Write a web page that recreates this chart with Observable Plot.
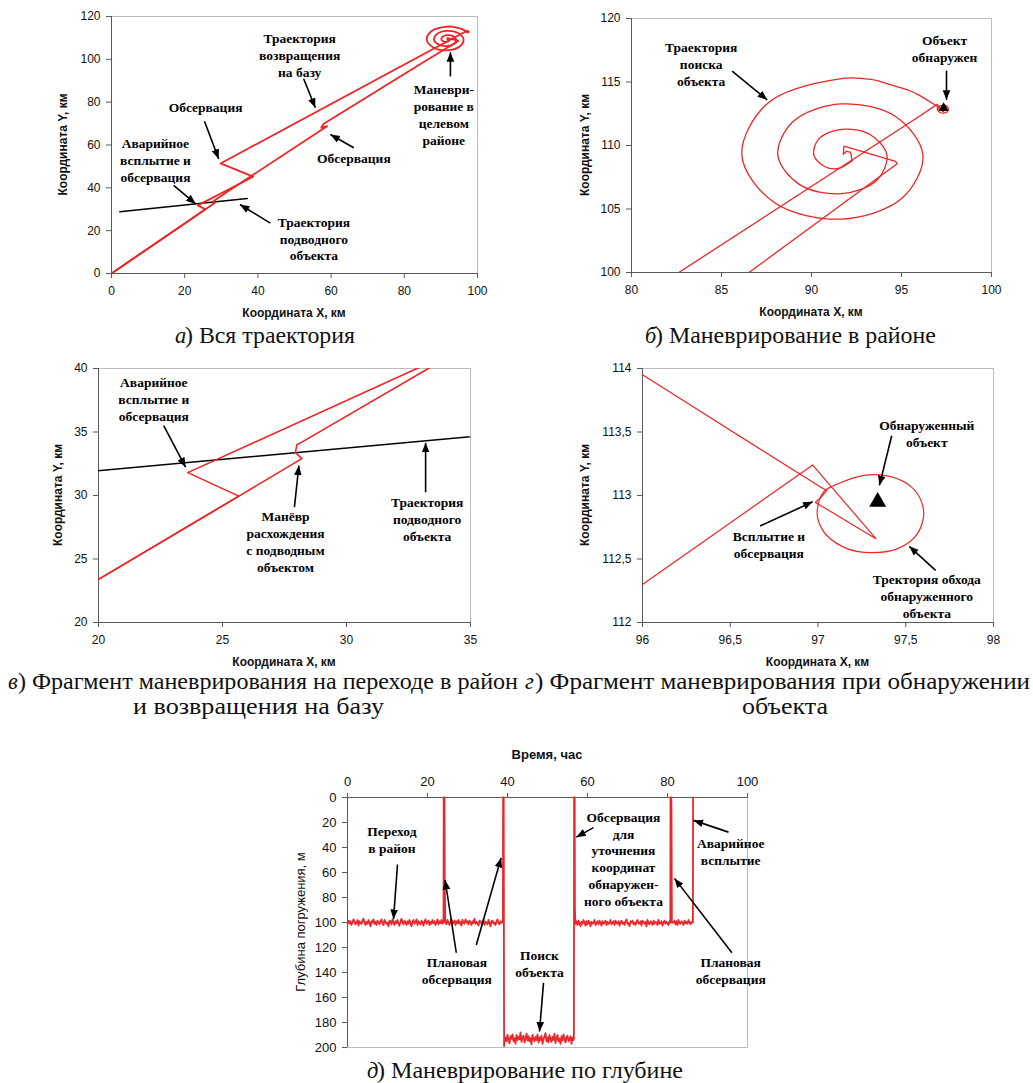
<!DOCTYPE html>
<html>
<head>
<meta charset="utf-8">
<script src="https://cdn.jsdelivr.net/npm/d3@7"></script>
<script src="https://cdn.jsdelivr.net/npm/@observablehq/plot@0.6"></script>
<style>
  body { margin: 0; background: #fff; }
  #wrap { position: relative; width: 1033px; height: 1083px; overflow: hidden; background: #fff; }
</style>
</head>
<body>
<div id="wrap"></div>
<script>
// ---------- DATA ----------
// Outbound track (km): base -> target area, ending at spiral start
const outboundX = [0, 20, 25.66, 28.2, 27.94, 28.0, 28.2, 33.3, 58.9, 57.3, 58.0, 86.43, 94.76, 94.67, 91.8, 91.77, 91.94, 92.17, 92.26];
const outboundY = [0, 23.4, 29.95, 32.9, 33.4, 34.0, 34.2, 40.0, 68.8, 68.1, 69.9, 99.9, 108.56, 108.75, 109.95, 109.3, 109.55, 109.45, 108.8];
// Search spiral
const spiralX = [92.26, 91.5, 90.75, 90.13, 90.40, 91.66, 93.27, 94.19, 93.63, 91.66, 89.34, 88.13, 88.99, 91.66, 94.69, 96.19, 95.04, 91.66, 87.93, 86.13, 87.57, 91.66, 93.3, 94.6, 95.4, 96.0];
const spiralY = [108.8, 108.2, 108.33, 109.24, 110.50, 111.27, 110.85, 109.24, 107.27, 106.21, 106.92, 109.24, 111.91, 113.27, 112.27, 109.24, 105.86, 104.21, 105.51, 109.24, 113.33, 115.27, 115.2, 114.7, 114.35, 113.95];
// Approach to object, surfacing, and return to base
const returnX = [96.0, 97.01, 97.05, 97.02, 96.985, 97.005, 97.33, 96.97, 96.0, 29.8, 38.7, 23.6, 25.66, 20, 0];
const returnY = [113.95, 113.07, 113.04, 112.99, 112.945, 112.93, 112.66, 113.24, 112.3, 51.4, 45.2, 31.8, 29.95, 23.4, 0];
// Orbit around detected object
const orbitX = [96.995, 97.033, 97.128, 97.27, 97.41, 97.53, 97.59, 97.60, 97.55, 97.45, 97.30, 97.17, 97.05, 97.005];
const orbitY = [112.87, 113.03, 113.10, 113.16, 113.15, 113.07, 112.95, 112.82, 112.67, 112.58, 112.55, 112.58, 112.685, 112.79];
// Underwater object trajectory
const subX = [2.3, 37.1];
const subY = [28.8, 35.0];
// Detected object
const targetX = [97.34];
const targetY = [112.95];

// Depth vs time (hours, metres), sampled every 0.25 h on the level legs
const depthStep = 0.25;
const leg1Start = 0;
const leg1Depth = [
  100.5, 98.5, 101, 99, 102, 100, 97.5, 99.5, 101.5, 100, 98, 102.5, 99, 100.5, 101, 98.5,
  97, 100, 102, 99.5, 101, 98, 100.5, 103, 99, 100, 97.5, 101, 99.5, 102, 98.5, 100,
  101.5, 99, 97.5, 100.5, 102, 98, 99.5, 101, 100, 103, 98.5, 99, 101.5, 97.5, 100, 102,
  99, 100.5, 98, 101, 102.5, 99.5, 97, 100, 101.5, 98.5, 100, 102, 99, 101, 98, 100.5,
  103, 99.5, 98, 101, 100, 97.5, 102, 99, 100.5, 101.5, 98.5, 100, 102.5, 99, 97.5, 101,
  100, 98.5, 102, 99.5, 101, 98, 100.5, 99, 102, 100, 97.5, 101.5, 99, 100.5, 98, 101];
const obs1Time = [24.0, 24.05, 24.25, 24.3, 24.45];
const obs1Depth = [100, 0, 0, 62, 100];
const leg2Start = 24.5;
const leg2Depth = [
  99, 101.5, 98, 100, 102, 99.5, 97.5, 101, 100, 98.5, 102, 99, 100.5, 98, 101, 99.5,
  102.5, 98, 100, 101, 97.5, 100, 99, 101.5, 98.5, 100, 102, 99, 100.5, 97, 101, 99.5,
  100.5, 102.5, 98.5, 99, 101, 100, 97.5, 102, 99.5, 100, 101.5, 98, 100.5, 103, 99, 98.5,
  101, 100, 102, 99, 97.5, 100.5, 101.5, 99, 100];
const dive1Time = [38.85, 38.9, 39.05, 39.15, 39.3];
const dive1Depth = [100, 0, 0, 199, 193];
const searchStart = 39.5;
const searchDepth = [
  192, 195, 190, 194, 196.5, 191, 193, 189.5, 195, 192.5, 197, 190, 194, 191.5, 193.5, 188,
  195.5, 192, 190.5, 196, 193, 189, 194.5, 191, 195, 192.5, 197.5, 190, 193, 195, 191.5, 194,
  189.5, 196, 192, 194, 190.5, 197, 193.5, 191, 188.5, 195, 192, 196, 190, 193, 195.5, 191.5,
  194, 189, 196.5, 192.5, 190, 195, 193, 197, 191, 194.5, 189.5, 193, 196, 192, 190.5, 195,
  193.5, 191, 197, 192, 194];
const obs2Time = [56.6, 56.65, 56.8, 56.85, 56.95];
const obs2Depth = [193, 0, 0, 89, 100];
const leg3Start = 57;
const leg3Depth = [
  101, 99, 102, 98.5, 100.5, 103, 99.5, 101, 98, 100, 102.5, 99, 101.5, 98.5, 100, 103,
  99.5, 101, 100, 98, 102, 100.5, 99, 101.5, 98.5, 100, 102.5, 99, 101, 100, 98.5, 102,
  99.5, 101, 100.5, 98, 101.5, 100, 99, 102, 98.5, 100.5, 101, 99, 102.5, 100, 98.5, 101,
  100, 102, 99, 97.5, 101, 100.5, 103, 99, 100, 98.5, 101.5, 100, 102, 99.5, 98, 101,
  100.5, 99, 102.5, 98.5, 100, 101, 99.5, 103, 98, 100.5, 101.5, 99, 100, 102, 98.5, 101,
  99.5, 100, 102, 98, 101, 100.5, 99, 102.5, 100, 98.5, 101, 99.5, 100.5, 102, 99];
const obs3Time = [80.7, 80.75, 80.95, 81.0, 81.1];
const obs3Depth = [100, 0, 0, 10, 100];
const leg4Start = 81.5;
const leg4Depth = [100, 98.5, 101.5, 99, 102, 98, 100.5, 101, 99, 100, 102, 98.5, 100.5, 99.5, 101, 98, 100, 101.5, 99.5];
const surf2Time = [86.35, 86.4];
const surf2Depth = [100, 0];

// Tick labels
const ticksA_X = [0, 20, 40, 60, 80, 100], ticksA_Y = [0, 20, 40, 60, 80, 100, 120];
const ticksB_X = [80, 85, 90, 95, 100], ticksB_Y = [100, 105, 110, 115, 120];
const ticksC_X = [20, 25, 30, 35], ticksC_Y = [20, 25, 30, 35, 40];
const ticksD_X = [96, 96.5, 97, 97.5, 98], ticksD_Y = [112, 112.5, 113, 113.5, 114];
const ticksE_X = [0, 20, 40, 60, 80, 100], ticksE_Y = [0, 20, 40, 60, 80, 100, 120, 140, 160, 180, 200];

// Annotations (data coordinates)
const notesA = [
  {x: 51.4, y: 102.2, text: "Траектория\nвозвращения\nна базу"},
  {x: 90.8, y: 74.4, text: "Маневри-\nрование в\nцелевом\nрайоне"},
  {x: 25.7, y: 78, text: "Обсервация"},
  {x: 66.2, y: 54.3, text: "Обсервация"},
  {x: 12.0, y: 53.2, text: "Аварийное\nвсплытие и\nобсервация"},
  {x: 55.3, y: 16.5, text: "Траектория\nподводного\nобъекта"}
];
const arrowsA = [
  {x1: 52.5, y1: 90.9, x2: 55.7, y2: 77.4},
  {x1: 92.6, y1: 92, x2: 92.6, y2: 103.3},
  {x1: 25.4, y1: 71.1, x2: 29.3, y2: 53.5},
  {x1: 66.2, y1: 58.7, x2: 59.8, y2: 64.9},
  {x1: 17.0, y1: 41.1, x2: 23.0, y2: 32.5},
  {x1: 43.4, y1: 23.5, x2: 35.1, y2: 32.2}
];
const notesB = [
  {x: 83.87, y: 116.43, text: "Траектория\nпоиска\nобъекта"},
  {x: 97.39, y: 117.66, text: "Объект\nобнаружен"}
];
const arrowsB = [
  {x1: 85.59, y1: 115.85, x2: 87.54, y2: 113.6},
  {x1: 97.5, y1: 115.9, x2: 97.5, y2: 113.6}
];
const notesC = [
  {x: 22.23, y: 37.61, text: "Аварийное\nвсплытие и\nобсервация"},
  {x: 27.54, y: 26.43, text: "Манёвр\nрасхождения\nс подводным\nобъектом"},
  {x: 33.25, y: 28.19, text: "Траектория\nподводного\nобъекта"}
];
const arrowsC = [
  {x1: 22.63, y1: 35.5, x2: 23.51, y2: 32.23},
  {x1: 27.9, y1: 29.08, x2: 28.08, y2: 32.36},
  {x1: 33.19, y1: 30.26, x2: 33.19, y2: 34.15}
];
const notesD = [
  {x: 97.62, y: 113.49, text: "Обнаруженный\nобъект"},
  {x: 96.72, y: 112.62, text: "Всплытие и\nобсервация"},
  {x: 97.62, y: 112.21, text: "Тректория обхода\nобнаруженного\nобъекта"}
];
const arrowsD = [
  {x1: 97.42, y1: 113.47, x2: 97.35, y2: 113.08},
  {x1: 96.67, y1: 112.76, x2: 96.97, y2: 112.95},
  {x1: 97.67, y1: 112.41, x2: 97.52, y2: 112.6}
];
const notesE = [
  {x: 11.1, y: 33.3, text: "Переход\nв район"},
  {x: 27.35, y: 138.3, text: "Плановая\nобсервация"},
  {x: 48, y: 132.2, text: "Поиск\nобъекта"},
  {x: 69, y: 48.8, text: "Обсервация\nдля\nуточнения\nкоординат\nобнаружен-\nного объекта"},
  {x: 95.8, y: 42.6, text: "Аварийное\nвсплытие"},
  {x: 95.8, y: 138.3, text: "Плановая\nобсервация"}
];
const arrowsE = [
  {x1: 12.5, y1: 53.6, x2: 11.5, y2: 97.3},
  {x1: 27.2, y1: 124.2, x2: 24.4, y2: 66},
  {x1: 32.2, y1: 118, x2: 38.4, y2: 48.3},
  {x1: 49, y1: 148.3, x2: 48, y2: 187.2},
  {x1: 61.5, y1: 24.1, x2: 57.2, y2: 31.7},
  {x1: 95.25, y1: 27.7, x2: 86.5, y2: 18.3},
  {x1: 96.1, y1: 124.2, x2: 81.75, y2: 64.7}
];

// ---------- BUILD ----------
const zipXY = (xs, ys) => xs.map((x, i) => ({x, y: ys[i]}));
const outbound = zipXY(outboundX, outboundY);
const spiral = zipXY(spiralX, spiralY);
const ret = zipXY(returnX, returnY);
const orbit = zipXY(orbitX, orbitY);
const sub = zipXY(subX, subY);
const target = zipXY(targetX, targetY);

const depth = [];
const addLeg = (start, vals) => vals.forEach((d, i) => depth.push({t: start + i * depthStep, d}));
const addPts = (ts, ds) => ts.forEach((t, i) => depth.push({t, d: ds[i]}));
addLeg(leg1Start, leg1Depth); addPts(obs1Time, obs1Depth);
addLeg(leg2Start, leg2Depth); addPts(dive1Time, dive1Depth);
addLeg(searchStart, searchDepth); addPts(obs2Time, obs2Depth);
addLeg(leg3Start, leg3Depth); addPts(obs3Time, obs3Depth);
addLeg(leg4Start, leg4Depth); addPts(surf2Time, surf2Depth);

const RED = "#f02424";
const commaFmt = d => String(d).replace(".", ",");
const NOTE_FS = 13.5;

function fillMarkers(svg) {
  svg.querySelectorAll("marker").forEach(m => {
    m.setAttribute("viewBox", "-10 -5 10 10");
    m.setAttribute("markerWidth", "6");
    m.setAttribute("markerHeight", "6");
    m.setAttribute("fill", "#000");
    m.setAttribute("stroke", "none");
    const p = m.querySelector("path");
    if (p) p.setAttribute("d", "M-10,-4L0,0L-10,4Z");
  });
}

function noteMarks(notes, arrows, fs) {
  return [
    Plot.text(notes, {x: "x", y: "y", text: "text", fontFamily: "'Liberation Serif', 'Times New Roman', serif",
      fontWeight: "bold", fontSize: fs, lineHeight: 1.25, fill: "#000", textAnchor: "middle"}),
    Plot.link(arrows, {x1: "x1", y1: "y1", x2: "x2", y2: "y2", stroke: "#000", strokeWidth: 1.6, markerEnd: "arrow"})
  ];
}

function frameMarks(o) {
  return [
    Plot.frame({stroke: "#bdbdbd"}),
    Plot.ruleX([o.xDomain[0]], {stroke: "#5a5a5a"}),
    Plot.ruleY([o.yDomain[0]], {stroke: "#5a5a5a"}),
    Plot.axisX({anchor: o.xAnchor || "bottom", ticks: o.xTicks, tickSize: 5, tickPadding: o.xPad || 8,
      tickFormat: o.fmt || (d => String(d)), stroke: "#5a5a5a", fill: "#111", label: null}),
    Plot.axisY({ticks: o.yTicks, tickSize: 5, tickPadding: 6, tickFormat: o.fmt || (d => String(d)),
      stroke: "#5a5a5a", fill: "#111", label: null})
  ];
}

const wrap = document.getElementById("wrap");
function makePanel(o) {
  const svg = Plot.plot({
    width: o.width, height: o.height,
    marginLeft: o.ml, marginRight: o.mr, marginTop: o.mt, marginBottom: o.mb,
    style: {fontFamily: "'Liberation Sans', Arial, sans-serif", fontSize: (o.fs || 12) + "px", color: "#111",
      background: "none", overflow: "visible"},
    x: {domain: o.xDomain},
    y: {domain: o.yDomain, reverse: !!o.yReverse},
    marks: [...frameMarks(o), ...o.marks]
  });
  fillMarkers(svg);
  svg.style.position = "absolute";
  svg.style.left = o.left + "px";
  svg.style.top = o.top + "px";
  wrap.appendChild(svg);
}

// Panel а
makePanel({
  left: 41, top: -4, width: 456, height: 327, ml: 70, mr: 20, mt: 20, mb: 50,
  xDomain: [0, 100], yDomain: [0, 120], xTicks: ticksA_X, yTicks: ticksA_Y,
  marks: [
    Plot.line(sub, {x: "x", y: "y", stroke: "#000", strokeWidth: 1.6, clip: true}),
    Plot.line(outbound, {x: "x", y: "y", stroke: RED, strokeWidth: 1.8, clip: true}),
    Plot.line(spiral, {x: "x", y: "y", stroke: RED, strokeWidth: 1.8, curve: "catmull-rom", clip: true}),
    Plot.line(orbit, {x: "x", y: "y", stroke: RED, strokeWidth: 1.8, curve: "catmull-rom-closed", clip: true}),
    Plot.line(ret, {x: "x", y: "y", stroke: RED, strokeWidth: 1.8, clip: true}),
    ...noteMarks(notesA, arrowsA, NOTE_FS)
  ]
});

// Panel б
makePanel({
  left: 561, top: -2, width: 450, height: 324, ml: 70, mr: 20, mt: 20, mb: 50,
  xDomain: [80, 100], yDomain: [100, 120], xTicks: ticksB_X, yTicks: ticksB_Y,
  marks: [
    Plot.line(outbound, {x: "x", y: "y", stroke: RED, strokeWidth: 1.3, clip: true}),
    Plot.line(spiral, {x: "x", y: "y", stroke: RED, strokeWidth: 1.3, curve: "catmull-rom", clip: true}),
    Plot.line(orbit, {x: "x", y: "y", stroke: RED, strokeWidth: 1.3, curve: "catmull-rom-closed", clip: true}),
    Plot.line(ret, {x: "x", y: "y", stroke: RED, strokeWidth: 1.3, clip: true}),
    Plot.dot(target, {x: "x", y: "y", symbol: "triangle", r: 3.8, fill: "#000"}),
    ...noteMarks(notesB, arrowsB, NOTE_FS)
  ]
});

// Panel в
makePanel({
  left: 28, top: 348, width: 462, height: 324, ml: 70, mr: 20, mt: 20, mb: 50,
  xDomain: [20, 35], yDomain: [20, 40], xTicks: ticksC_X, yTicks: ticksC_Y,
  marks: [
    Plot.line(sub, {x: "x", y: "y", stroke: "#000", strokeWidth: 1.6, clip: true}),
    Plot.line(outbound, {x: "x", y: "y", stroke: RED, strokeWidth: 1.6, clip: true}),
    Plot.line(ret, {x: "x", y: "y", stroke: RED, strokeWidth: 1.6, clip: true}),
    ...noteMarks(notesC, arrowsC, NOTE_FS)
  ]
});

// Panel г
makePanel({
  left: 572, top: 348, width: 441, height: 324, ml: 70, mr: 20, mt: 20, mb: 50,
  xDomain: [96, 98], yDomain: [112, 114], xTicks: ticksD_X, yTicks: ticksD_Y, fmt: commaFmt,
  marks: [
    Plot.line(spiral, {x: "x", y: "y", stroke: RED, strokeWidth: 1.2, curve: "catmull-rom", clip: true}),
    Plot.line(orbit, {x: "x", y: "y", stroke: RED, strokeWidth: 1.2, curve: "catmull-rom-closed", clip: true}),
    Plot.line(ret, {x: "x", y: "y", stroke: RED, strokeWidth: 1.2, clip: true}),
    Plot.dot(target, {x: "x", y: "y", symbol: "triangle", r: 6.3, fill: "#000"}),
    ...noteMarks(notesD, arrowsD, NOTE_FS)
  ]
});

// Panel д
makePanel({
  left: 277, top: 737, width: 500, height: 325, ml: 70, mr: 30, mt: 60, mb: 15, fs: 13,
  xDomain: [0, 100], yDomain: [0, 200], yReverse: true, xAnchor: "top", xPad: 7,
  xTicks: ticksE_X, yTicks: ticksE_Y,
  marks: [
    Plot.line(depth, {x: "t", y: "d", stroke: "#e8282c", strokeWidth: 1.8}),
    ...noteMarks(notesE, arrowsE, NOTE_FS)
  ]
});

// ---------- Axis titles & captions ----------
const ov = d3.create("svg").attr("width", 1033).attr("height", 1083)
  .style("position", "absolute").style("left", "0px").style("top", "0px").style("pointer-events", "none");

const axisTitles = [
  {x: 294, y: 313, t: "Координата X, км", r: 0, w: "bold", s: 12},
  {x: 63, y: 144.5, t: "Координата Y, км", r: -90, w: "bold", s: 12},
  {x: 811, y: 311.7, t: "Координата X, км", r: 0, w: "bold", s: 12},
  {x: 585, y: 145, t: "Координата Y, км", r: -90, w: "bold", s: 12},
  {x: 284, y: 661.7, t: "Координата X, км", r: 0, w: "bold", s: 12},
  {x: 58.3, y: 495, t: "Координата Y, км", r: -90, w: "bold", s: 12},
  {x: 817.5, y: 661.7, t: "Координата X, км", r: 0, w: "bold", s: 12},
  {x: 585, y: 495, t: "Координата Y, км", r: -90, w: "bold", s: 12},
  {x: 547, y: 754, t: "Время, час", r: 0, w: "bold", s: 13},
  {x: 300, y: 922, t: "Глубина погружения, м", r: -90, w: "normal", s: 13}
];
ov.selectAll("text.at").data(axisTitles).join("text").attr("class", "at")
  .attr("transform", d => `translate(${d.x},${d.y}) rotate(${d.r})`)
  .attr("text-anchor", "middle").attr("dominant-baseline", "central")
  .attr("font-family", "'Liberation Sans', Arial, sans-serif")
  .attr("font-weight", d => d.w).attr("font-size", d => d.s).attr("fill", "#111")
  .text(d => d.t);

// Captions: left edge, baseline, total width, italic letter, rest
const captions = [
  {x0: 175, y: 342.5, w: 180, it: "а", rest: ") Вся траектория"},
  {x0: 645, y: 342.5, w: 291, it: "б", rest: ") Маневрирование в районе"},
  {x0: 8, y: 689, w: 510, it: "в", rest: ") Фрагмент маневрирования на переходе в район"},
  {x0: 133, y: 714, w: 251, it: "", rest: "и возвращения на базу"},
  {x0: 525, y: 689, w: 505, it: "г", rest: ") Фрагмент маневрирования при обнаружении"},
  {x0: 742, y: 714, w: 86, it: "", rest: "объекта"},
  {x0: 367, y: 1078, w: 316, it: "д", rest: ") Маневрирование по глубине"}
];
const CAP_FONT = "'Liberation Serif', 'Times New Roman', serif";
const IT_W = 10;
captions.forEach(c => {
  let restX = c.x0, restW = c.w;
  if (c.it) {
    ov.append("text").attr("x", c.x0).attr("y", c.y).attr("font-family", CAP_FONT).attr("font-size", 22.5)
      .attr("font-style", "italic").attr("fill", "#111").text(c.it);
    restX = c.x0 + IT_W; restW = c.w - IT_W;
  }
  ov.append("text").attr("x", restX).attr("y", c.y).attr("font-family", CAP_FONT).attr("font-size", 22.5)
    .attr("fill", "#111").attr("textLength", restW).attr("lengthAdjust", "spacingAndGlyphs").text(c.rest);
});
wrap.appendChild(ov.node());
</script>
</body>
</html>
